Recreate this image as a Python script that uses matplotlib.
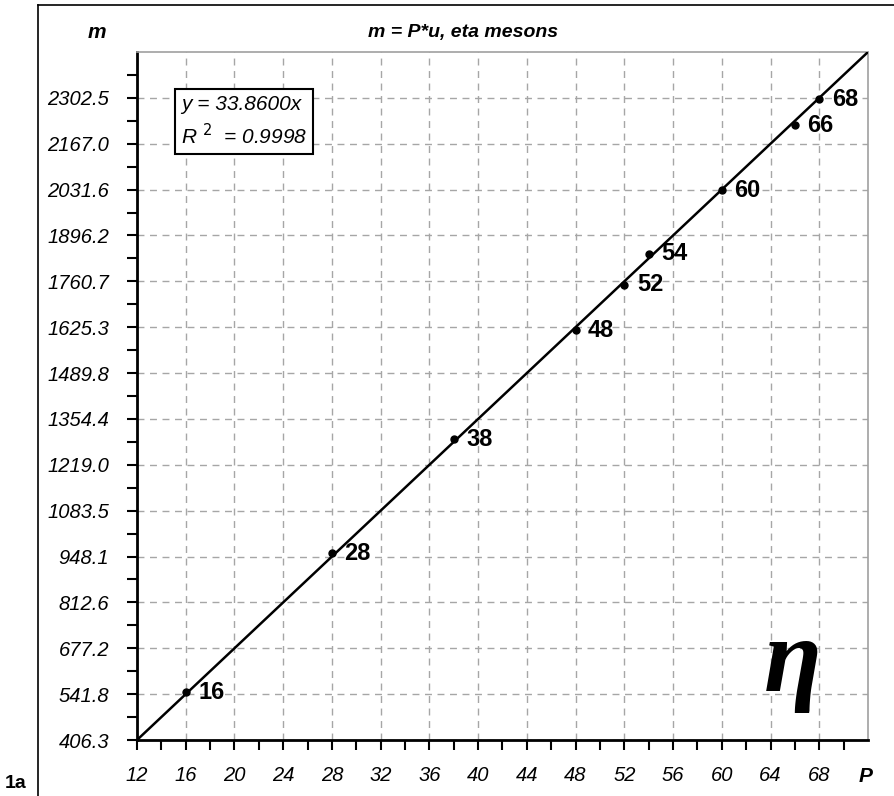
from matplotlib import pyplot as plt
from matplotlib.lines import Line2D
import numpy as np

plt.rcParams['font.family'] = ['Liberation Sans', 'DejaVu Sans']

# eta mesons: integer P and measured mass m (MeV)
P = [16, 28, 38, 48, 52, 54, 60, 66, 68]
m = [547.9, 957.8, 1294.0, 1617.0, 1751.0, 1842.0, 2030.0, 2221.0, 2298.0]
u = 33.86   # slope of the fit line
r2 = 0.9998

xmin, xmax = 12, 72
xmajor = np.arange(12, 69, 4)
ylabels = ["406.3", "541.8", "677.2", "812.6", "948.1", "1083.5", "1219.0",
           "1354.4", "1489.8", "1625.3", "1760.7", "1896.2", "2031.6",
           "2167.0", "2302.5"]

fig = plt.figure(figsize=(8.95, 7.96), dpi=100)
ax = fig.add_axes([137/895, 1-740/796, (868-137)/895, (740-52)/796])

# outer chart frame
fig.add_artist(Line2D([38/895, 38/895], [0, 1-5/796], color='black', lw=1.2,
                      transform=fig.transFigure))
fig.add_artist(Line2D([38/895, 1], [1-5/796, 1-5/796], color='black', lw=1.2,
                      transform=fig.transFigure))

xs = np.array([xmin, xmax])
ax.plot(xs, u*xs, color='black', lw=1.8, zorder=3)
ax.plot(P, m, 'o', color='black', ms=5, zorder=4)
for p, mm in zip(P, m):
    ax.annotate(str(p), (p, mm), xytext=(9, 0), textcoords='offset points',
                fontsize=17, fontweight='bold', va='center', ha='left')

ax.set_xlim(xmin, xmax)
ax.set_ylim(u*xmin, u*xmax)

ax.set_xticks(xmajor)
ax.set_xticklabels([str(v) for v in xmajor], fontstyle='italic', fontsize=14.5)
ax.set_xticks(np.arange(12, 72, 2), minor=True)
yt = u*np.arange(12, 69, 4)
ax.set_yticks(yt)
ax.set_yticklabels(ylabels, fontstyle='italic', fontsize=14.5)
ax.set_yticks(u*np.arange(12, 72, 2), minor=True)

ax.tick_params(which='both', direction='out', length=7, width=1.5, pad=13)
ax.tick_params(axis='x', which='both', pad=12)
ax.grid(True, which='major', color='#a6a6a6', ls=(0, (5, 4)), lw=1)
for s in ['left', 'bottom']:
    ax.spines[s].set_linewidth(2)
for s in ['top', 'right']:
    ax.spines[s].set_color('#a0a0a0')
    ax.spines[s].set_linewidth(1.2)

fig.text(463/895, 1-33/796, "m = P*u, eta mesons", fontsize=14, fontweight='bold',
         fontstyle='italic', ha='center', va='center')
fig.text(97/895, 1-32/796, "m", fontsize=15, fontweight='bold', fontstyle='italic',
         ha='center', va='center')
fig.text(866/895, 1-777/796, "P", fontsize=15, fontweight='bold', fontstyle='italic',
         ha='center', va='center')
fig.text(16/895, 1-783/796, "1a", fontsize=14, fontweight='bold',
         ha='center', va='center')

ax.text(0.06, 0.937, "y = %.4fx\nR $^{2}$  = %.4f" % (u, r2), transform=ax.transAxes,
        fontsize=15, fontstyle='italic', ha='left', va='top', linespacing=1.4,
        bbox=dict(boxstyle='square,pad=0.3', fc='white', ec='black', lw=1.5),
        zorder=5)

ax.text(0.897, 0.11, "η", transform=ax.transAxes, fontsize=76, fontweight='bold',
        ha='center', va='center', family='Liberation Serif', fontstyle='italic')

fig.savefig("out.png", dpi=100)
